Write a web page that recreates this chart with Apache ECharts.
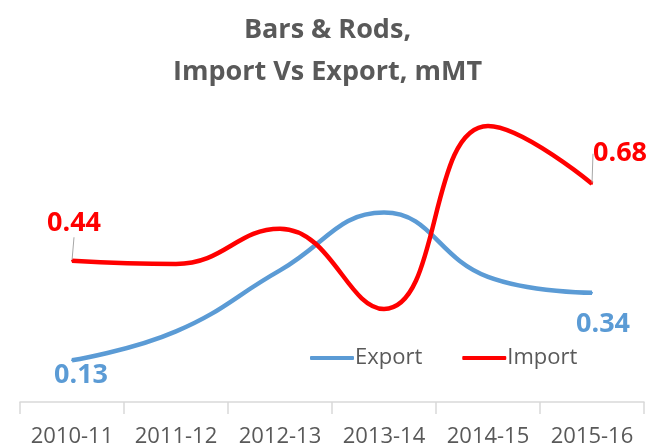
<!DOCTYPE html>
<html>
<head>
<meta charset="utf-8">
<script src="https://cdn.jsdelivr.net/npm/echarts@6/dist/echarts.min.js"></script>
<style>
  html, body { margin: 0; padding: 0; background: #fff; }
  #chart { width: 655px; height: 448px; }
</style>
</head>
<body>
<div id="chart"></div>
<script>
var years = ['2010-11', '2011-12', '2012-13', '2013-14', '2014-15', '2015-16'];
var exportValues = [0.13, 0.22, 0.41, 0.59, 0.39, 0.34];
var importValues = [0.44, 0.43, 0.54, 0.29, 0.86, 0.68];

var textGray = '#595959';
var fontName = '"Open Sans", "Noto Sans", sans-serif';

// only first and last points carry a label
function withEndLabels(values, color) {
    return values.map(function (v, i) {
        var item = { value: v };
        if (i === 0 || i === values.length - 1) {
            item.label = {
                show: true,
                color: color,
                fontSize: 27,
                fontWeight: 'bold',
                fontFamily: fontName,
                position: 'inside'
            };
        }
        return item;
    });
}

// label shift [first, last]
function shiftLabels(shifts) {
    return function (params) {
        var s = params.dataIndex === 0 ? shifts[0] : shifts[1];
        return { dx: s[0], dy: s[1] };
    };
}

var chart = echarts.init(document.getElementById('chart'));

var option = {
    animation: false,
    title: {
        text: 'Bars & Rods,\nImport Vs Export, mMT',
        left: 'center',
        top: 4,
        textStyle: {
            color: textGray,
            fontSize: 27,
            fontWeight: 'bold',
            fontFamily: fontName,
            lineHeight: 42
        }
    },
    legend: {
        left: 305,
        top: 342,
        itemWidth: 44,
        itemHeight: 4,
        itemGap: 40,
        textStyle: {
            color: textGray,
            fontSize: 22,
            fontFamily: fontName,
            padding: [0, 0, 0, -4]
        },
        data: [
            { name: 'Export', icon: 'roundRect' },
            { name: 'Import', icon: 'roundRect' }
        ]
    },
    grid: {
        left: 20,
        right: 11,
        top: 81,
        bottom: 46
    },
    xAxis: {
        type: 'category',
        data: years,
        axisLine: { lineStyle: { color: '#d9d9d9', width: 1.5 } },
        axisTick: { show: true, length: 12, lineStyle: { color: '#d9d9d9', width: 1.5 } },
        axisLabel: {
            interval: 0,
            color: textGray,
            fontSize: 22,
            fontFamily: fontName,
            margin: 24
        }
    },
    yAxis: {
        type: 'value',
        min: 0,
        max: 1,
        show: false
    },
    series: [
        {
            name: 'Export',
            type: 'line',
            smooth: 0.45,
            symbol: 'circle',
            symbolSize: 2,
            lineStyle: { color: '#5b9bd5', width: 4.5 },
            itemStyle: { color: '#5b9bd5' },
            data: withEndLabels(exportValues, '#5b9bd5'),
            labelLayout: shiftLabels([[9, 15], [11, 31]]),
            z: 2
        },
        {
            name: 'Import',
            type: 'line',
            smooth: 0.45,
            symbol: 'circle',
            symbolSize: 2,
            lineStyle: { color: '#ff0000', width: 4.5 },
            itemStyle: { color: '#ff0000' },
            data: withEndLabels(importValues, '#ff0000'),
            labelLayout: shiftLabels([[2, -37], [28, -30]]),
            labelLine: { show: true, lineStyle: { color: '#a6a6a6', width: 1 } },
            z: 3
        }
    ]
};

chart.setOption(option);
</script>
</body>
</html>
